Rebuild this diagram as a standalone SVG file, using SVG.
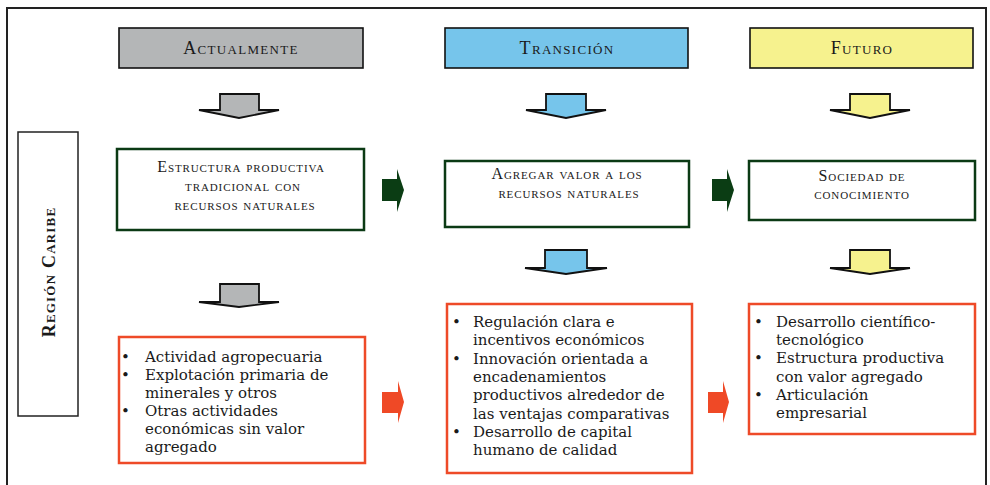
<svg xmlns="http://www.w3.org/2000/svg" width="990" height="485" viewBox="0 0 990 485">
<style>
.hdr{stroke:#111;stroke-width:1.6}
.sc{font-family:"Liberation Serif","DejaVu Serif",serif;font-variant:small-caps;fill:#1a1a1a;text-anchor:middle}
.hd{font-size:18px;letter-spacing:1.3px}
.bx{font-size:16px;letter-spacing:0.9px}
.green{fill:#fff;stroke:#0b3a14;stroke-width:2.5}
.red{fill:#fff;stroke:#ee4a28;stroke-width:2.5}
.li{font-family:"DejaVu Serif","Liberation Serif",serif;font-size:15px;fill:#1a1a1a}
.darr{stroke:#111;stroke-width:1.8;stroke-linejoin:miter}
.garr{fill:#0b3d14}
.oarr{fill:#ef4926}
</style>
<rect x="0" y="0" width="990" height="485" fill="#fff"/>
<rect x="7" y="8" width="979" height="490" fill="none" stroke="#222" stroke-width="2"/>

<g id="region">
<rect x="18" y="132" width="60" height="284" fill="#fff" stroke="#222" stroke-width="1.5"/>
<text class="sc" transform="translate(55,272) rotate(-90)" font-size="18" font-weight="bold" letter-spacing="1.2">Región Caribe</text>
</g>

<g id="actualmente">
<rect class="hdr" x="119" y="28" width="244" height="40" fill="#b4b6b7"/>
<text class="sc hd" x="241" y="54">Actualmente</text>
</g>
<g id="transicion">
<rect class="hdr" x="445" y="28" width="243" height="40" fill="#76c5eb"/>
<text class="sc hd" x="567" y="54">Transición</text>
</g>
<g id="futuro">
<rect class="hdr" x="750" y="28" width="223" height="40" fill="#f6f28e"/>
<text class="sc hd" x="862" y="54">Futuro</text>
</g>

<g id="estructura">
<rect class="green" x="117" y="149" width="247" height="81"/>
<text class="sc bx"><tspan x="241" y="172">Estructura productiva</tspan><tspan x="243" y="191">tradicional con</tspan><tspan x="245" y="210">recursos naturales</tspan></text>
</g>
<g id="agregar">
<rect class="green" x="445" y="161" width="244" height="66"/>
<text class="sc bx"><tspan x="567" y="179">Agregar valor a los</tspan><tspan x="569" y="198">recursos naturales</tspan></text>
</g>
<g id="sociedad">
<rect class="green" x="749" y="161" width="226" height="59"/>
<text class="sc bx"><tspan x="862" y="181">Sociedad de</tspan><tspan x="862" y="199">conocimiento</tspan></text>
</g>

<g id="lista1">
<rect class="red" x="119" y="337" width="246" height="126"/>
<text class="li"><tspan x="121" y="362">•</tspan><tspan x="145" y="362">Actividad agropecuaria</tspan><tspan x="121" y="380">•</tspan><tspan x="145" y="380">Explotación primaria de</tspan><tspan x="145" y="398">minerales y otros</tspan><tspan x="121" y="416">•</tspan><tspan x="145" y="416">Otras actividades</tspan><tspan x="145" y="434">económicas sin valor</tspan><tspan x="145" y="452">agregado</tspan></text>
</g>
<g id="lista2">
<rect class="red" x="447" y="304" width="245" height="169"/>
<text class="li"><tspan x="452" y="327">•</tspan><tspan x="473" y="327">Regulación clara e</tspan><tspan x="473" y="345.3">incentivos económicos</tspan><tspan x="452" y="363.6">•</tspan><tspan x="473" y="363.6">Innovación orientada a</tspan><tspan x="473" y="381.9">encadenamientos</tspan><tspan x="473" y="400.2">productivos alrededor de</tspan><tspan x="473" y="418.5">las ventajas comparativas</tspan><tspan x="452" y="436.8">•</tspan><tspan x="473" y="436.8">Desarrollo de capital</tspan><tspan x="473" y="455">humano de calidad</tspan></text>
</g>
<g id="lista3">
<rect class="red" x="749" y="304" width="226" height="130"/>
<text class="li"><tspan x="754" y="327">•</tspan><tspan x="776" y="327">Desarrollo científico-</tspan><tspan x="776" y="345.2">tecnológico</tspan><tspan x="754" y="363.4">•</tspan><tspan x="776" y="363.4">Estructura productiva</tspan><tspan x="776" y="381.6">con valor agregado</tspan><tspan x="754" y="399.8">•</tspan><tspan x="776" y="399.8">Articulación</tspan><tspan x="776" y="418">empresarial</tspan></text>
</g>

<g id="connectors">
<path class="darr" fill="#b4b6b7" d="M220,94 H259 V110 H279 L239,118 L199,110 H220 Z"/>
<path class="darr" fill="#b4b6b7" d="M220,284 H259 V302 H279 L239,307 L199,302 H220 Z"/>
<path class="darr" fill="#76c5eb" d="M546,94 H586 V110 H606 L566,118 L526,110 H546 Z"/>
<path class="darr" fill="#76c5eb" d="M545,250 H587 V268 H607 L566,274 L525,268 H545 Z"/>
<path class="darr" fill="#f6f28e" d="M850,94 H890 V110 H910 L870,118 L830,110 H850 Z"/>
<path class="darr" fill="#f6f28e" d="M850,250 H890 V268 H910 L870,274 L830,268 H850 Z"/>
<path class="garr" d="M382,179 H397 V169 L404,190 L397,212 V201 H382 Z"/>
<path class="garr" d="M712,179 H727 V169 L734,190 L727,212 V201 H712 Z"/>
<path class="oarr" d="M382,392 H398 V381 L404,402 L398,423 V413 H382 Z"/>
<path class="oarr" d="M708,392 H723 V381 L729,402 L723,423 V413 H708 Z"/>
</g>
</svg>
